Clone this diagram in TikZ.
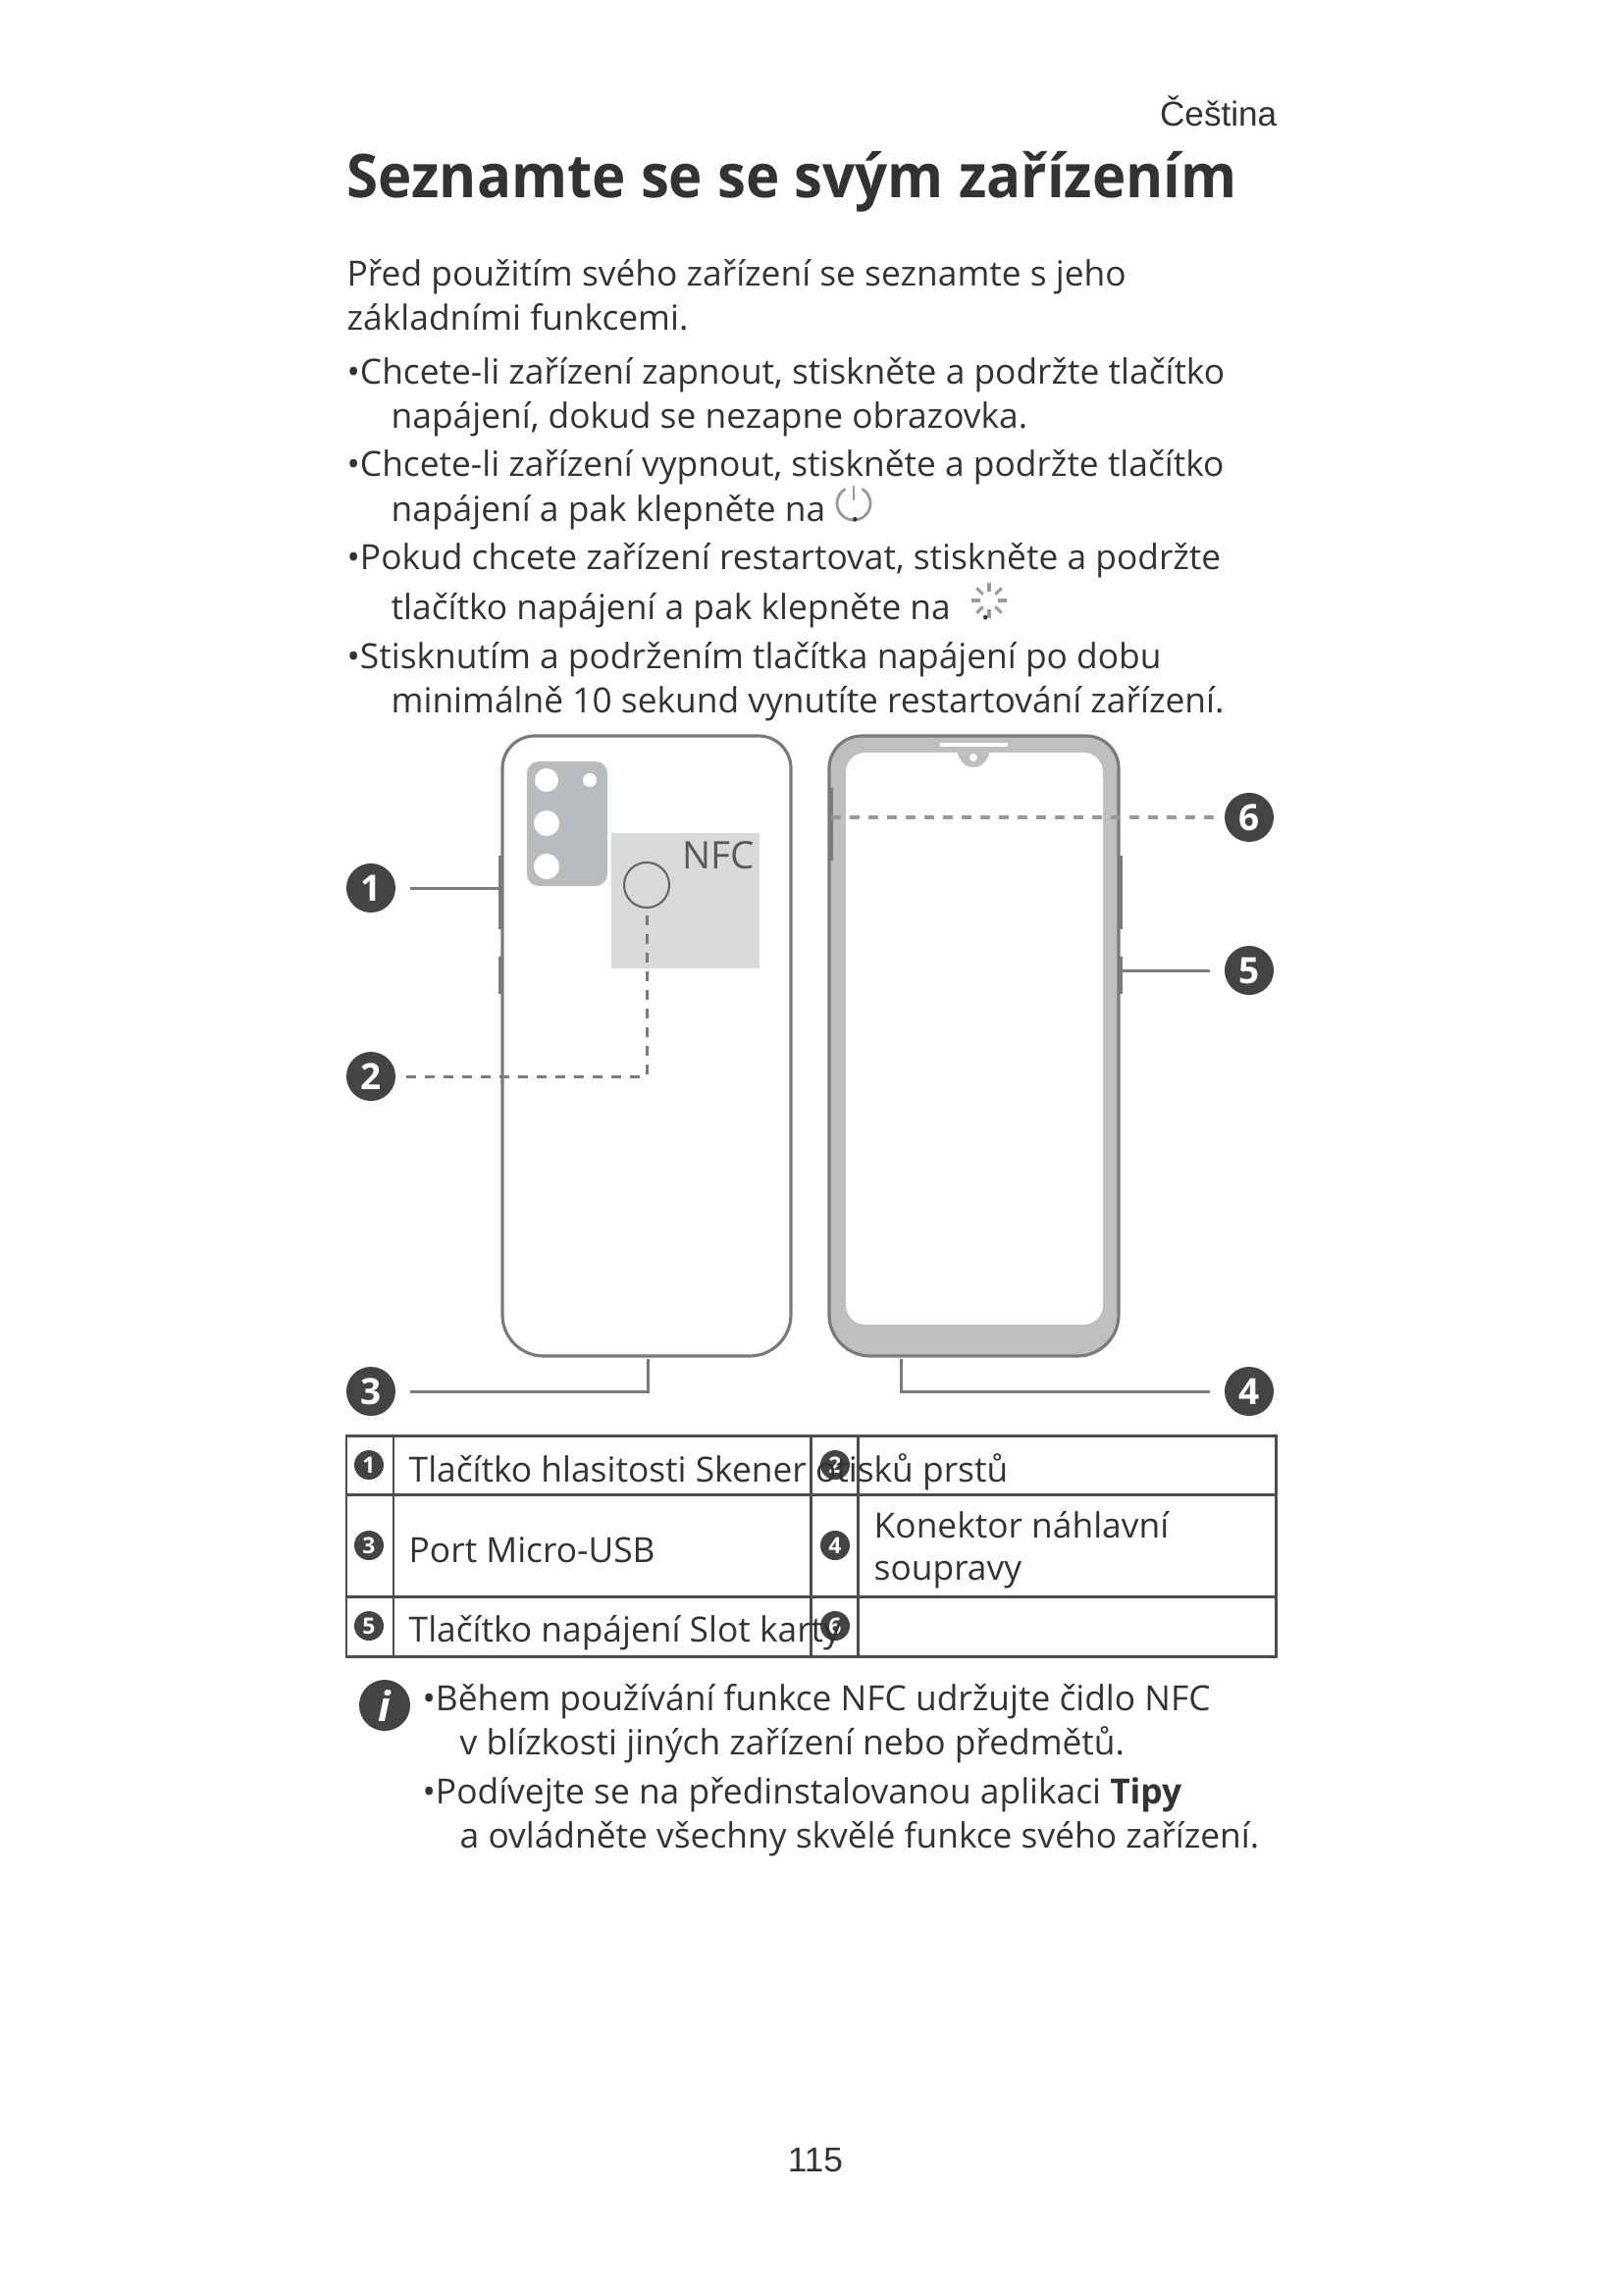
\documentclass[tikz,border=0pt]{standalone}
\usepackage{fontspec}
\usetikzlibrary{positioning,calc}
\setmainfont{Open Sans}
\newfontfamily\arialfont{Liberation Sans}
\definecolor{inkgray}{HTML}{333333}
\definecolor{linegray}{HTML}{7A7A7A}
\definecolor{bezelgray}{HTML}{BFBFBF}
\definecolor{cameragray}{HTML}{B9BCBE}
\definecolor{nfcgray}{HTML}{D9D9D9}
\definecolor{badgegray}{HTML}{444444}

\begin{document}
\begin{tikzpicture}[
                    x=0.01cm, y=-0.01cm,
                    textline/.style={anchor=base west, inner sep=0pt, text=inkgray, font=\fontsize{10.05}{11}\selectfont},
                    badge/.style={circle, fill=badgegray, text=white, inner sep=0pt, minimum size=0.5cm, font=\fontsize{10.5}{12}\selectfont\bfseries},
                    smallbadge/.style={circle, fill=badgegray, text=white, inner sep=0pt, minimum size=0.3cm, font=\fontsize{6.5}{7}\selectfont\bfseries},
                    leader/.style={linegray, line width=0.85pt, shorten <=0.14cm},
                    dashleader/.style={linegray, line width=0.85pt, dash pattern=on 0.1cm off 0.09cm, shorten <=0.1cm},
                    phone/.style={linegray, line width=0.9pt},
                    sidekey/.style={line width=1.1pt, linegray},
                    cell/.style={line width=0.85pt, draw=black!70}
                ]
                    \useasboundingbox (0,0) rectangle (1654,2339);
                    \fill[white] (0,0) rectangle (1654,2339);

                    % Heading and text
                    \node[anchor=base east, inner sep=0pt, text=inkgray, font=\arialfont\fontsize{10}{12}\selectfont] (lang) at (1302,128) {Čeština};
                    \node[textline, font=\fontsize{17.5}{20}\selectfont\bfseries\addfontfeature{FakeStretch=0.945}] (title) at (353,201) {Seznamte se se svým zařízením};
                    \node[textline] (intro1) at (353,291) {Před použitím svého zařízení se seznamte s jeho};
                    \node[textline] (intro2) at (353,336) {základními funkcemi.};
                    \node[textline] (on1) at (353,391) {•Chcete-li zařízení zapnout, stiskněte a podržte tlačítko};
                    \node[textline] (on2) at (398,436) {napájení, dokud se nezapne obrazovka.};
                    \node[textline] (off1) at (353,485) {•Chcete-li zařízení vypnout, stiskněte a podržte tlačítko};
                    \node[textline] (off2) at (398,531) {napájení a pak klepněte na};
                    \node[textline] (re1) at (353,580) {•Pokud chcete zařízení restartovat, stiskněte a podržte};
                    \node[textline] (re2) at (398,631) {tlačítko napájení a pak klepněte na};
                    \node[textline] (hold1) at (353,681) {•Stisknutím a podržením tlačítka napájení po dobu};
                    \node[textline] (hold2) at (398,726) {minimálně 10 sekund vynutíte restartování zařízení.};

                    % Inline icons
                    \draw[bezelgray!80!black, line width=0.8pt] ($(870,513)+(-60:17)$) arc (-60:240:17);
                    \draw[bezelgray!80!black, line width=0.8pt] (870,495) -- (870,510);
                    \node[textline] (dotpower) at (866,531) {.};
                    \foreach \a in {0,45,...,315}
                        \draw[bezelgray!80!black, line width=0.9pt] ($(1008,612)+(\a:9)$) -- ($(1008,612)+(\a:18)$);
                    \node[textline] (dotspin) at (999,631) {.};

                    % Back of the phone
                    \draw[phone] (660,750) [rounded corners=0.33cm] -| (512,1100) [rounded corners=0.42cm] |- (806,1382) [rounded corners=0.33cm] |- (660,750);
                    \draw[sidekey] (510,872) -- (510,947);
                    \draw[sidekey] (510,975) -- (510,1013);
                    \fill[cameragray, rounded corners=0.12cm] (537,776) rectangle (619,903);
                    \fill[white] (557,795) circle (12);
                    \fill[white] (601,795) circle (7);
                    \fill[white] (557,839) circle (13);
                    \fill[white] (557,883) circle (13);
                    \fill[nfcgray] (623,849) rectangle (774,987);
                    \node[inner sep=0pt, text=black!65, font=\fontsize{11}{12}\selectfont] (nfc) at (732,872) {NFC};
                    \node[circle, draw=black!60, line width=0.6pt, minimum size=0.46cm, inner sep=0pt] (ring) at (659,902) {};

                    % Front of the phone
                    \filldraw[phone, fill=bezelgray] (992,750) [rounded corners=0.33cm] -| (845,1100) [rounded corners=0.42cm] |- (1140,1382) [rounded corners=0.33cm] |- (992,750);
                    \fill[white, rounded corners=0.2cm] (992,767) -| (862,1100) |- (1124,1350) |- (992,767);
                    \fill[bezelgray] (975,766) -- (1009,766) .. controls (1006,776) and (1000,782) .. (992,782) .. controls (984,782) and (978,776) .. (975,766) -- cycle;
                    \fill[white] (992,772) circle (4);
                    \fill[white] (958,757) rectangle (1027,761);
                    \draw[sidekey] (1142,872) -- (1142,947);
                    \draw[sidekey] (1142,975) -- (1142,1013);
                    \draw[sidekey] (847,803) -- (847,877);

                    % Callouts
                    \node[badge] (b1) at (378,905) {1};
                    \node[badge] (b2) at (378,1097) {2};
                    \node[badge] (b3) at (378,1418) {3};
                    \node[badge] (b4) at (1273,1418) {4};
                    \node[badge] (b5) at (1273,989) {5};
                    \node[badge] (b6) at (1273,833) {6};
                    \coordinate (volkey) at (508,905);
                    \coordinate (usbport) at (660,1385);
                    \coordinate (jack) at (918,1385);
                    \coordinate (powerkey) at (1143,989);
                    \coordinate (slot) at (846,833);
                    \draw[leader] (b1) -- (volkey);
                    \draw[dashleader] (b2) -| (ring);
                    \draw[leader] (b3) -| (usbport);
                    \draw[leader] (b4) -| (jack);
                    \draw[leader] (b5) -- (powerkey);
                    \draw[dashleader, black!40, line width=1.1pt] (b6) -- (slot);

                    % Parts table
                    \draw[cell] (353,1463) rectangle (1300,1688);
                    \draw[cell] (353,1523) -- (1300,1523);
                    \draw[cell] (353,1627) -- (1300,1627);
                    \draw[cell] (401,1463) -- (401,1688);
                    \draw[cell] (826,1463) -- (826,1688);
                    \draw[cell] (874,1463) -- (874,1688);
                    \node[smallbadge] (t1) at (376,1493) {1};
                    \node[smallbadge] (t2) at (851,1493) {2};
                    \node[smallbadge] (t3) at (376,1575) {3};
                    \node[smallbadge] (t4) at (851,1575) {4};
                    \node[smallbadge] (t5) at (376,1657) {5};
                    \node[smallbadge] (t6) at (851,1657) {6};
                    \node[textline] (row1) at (416,1510) {Tlačítko hlasitosti Skener otisků prstů};
                    \node[textline] (row2) at (416,1592) {Port Micro-USB};
                    \node[textline] (row2b) at (890,1567) {Konektor náhlavní};
                    \node[textline] (row2c) at (890,1610) {soupravy};
                    \node[textline] (row3) at (416,1673) {Tlačítko napájení Slot karty};

                    % Notes
                    \node[circle, fill=badgegray, text=white, inner sep=0pt, minimum size=0.52cm, font=\fontsize{12}{12}\selectfont\bfseries\itshape] (info) at (392,1738) {i};
                    \node[textline] (nfc1) at (430,1743) {•Během používání funkce NFC udržujte čidlo NFC};
                    \node[textline] (nfc2) at (468,1788) {v blízkosti jiných zařízení nebo předmětů.};
                    \node[textline] (tips1) at (430,1838) {•Podívejte se na předinstalovanou aplikaci \textbf{Tipy}};
                    \node[textline] (tips2) at (468,1883) {a ovládněte všechny skvělé funkce svého zařízení.};

                    % Page number
                    \node[anchor=base, inner sep=0pt, text=inkgray, font=\arialfont\fontsize{10}{12}\selectfont] (page) at (831,2213) {115};
                \end{tikzpicture}
\end{document}
